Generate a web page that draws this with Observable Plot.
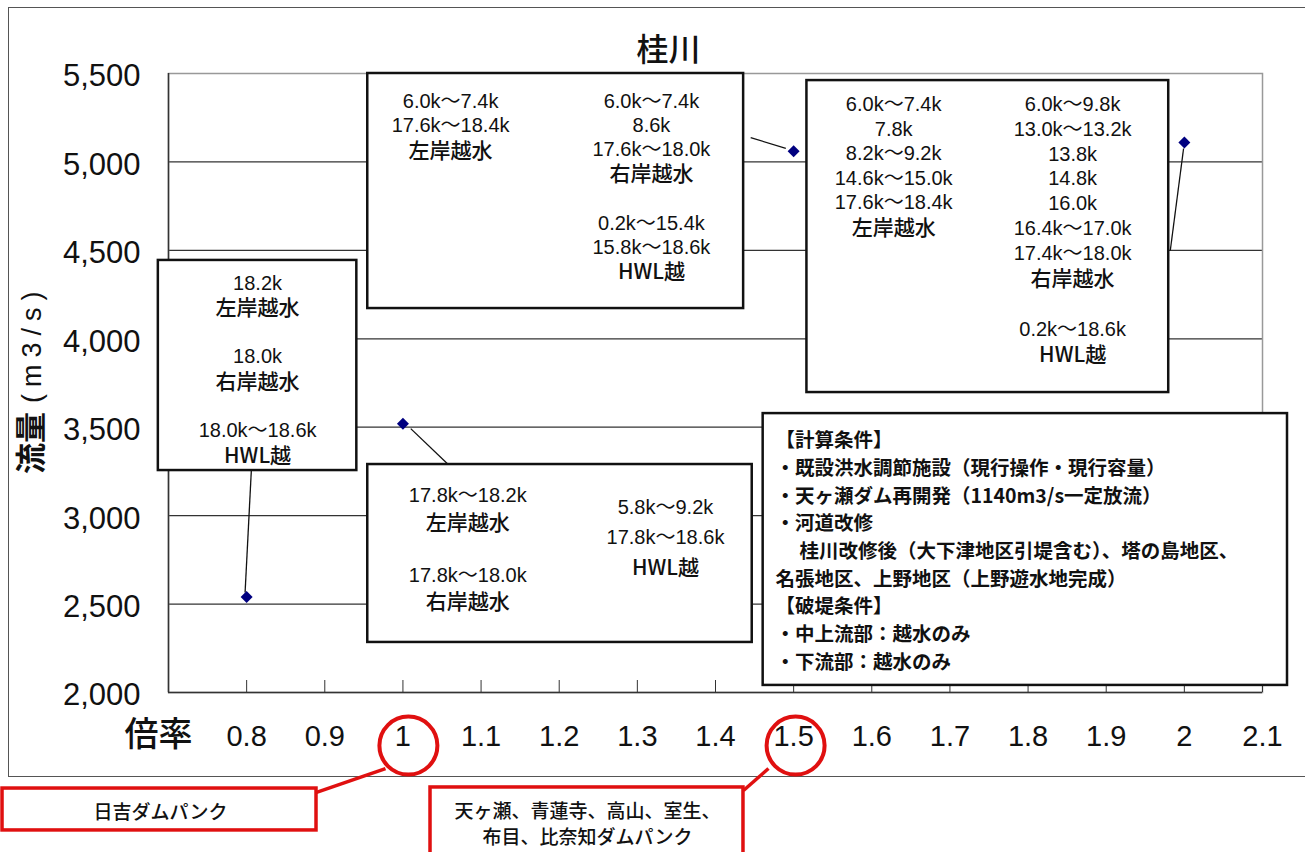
<!DOCTYPE html>
<html>
<head>
<meta charset="utf-8">
<script src="https://cdn.jsdelivr.net/npm/d3@7"></script>
<script src="https://cdn.jsdelivr.net/npm/@observablehq/plot@0.6"></script>
<style>
  body { margin: 0; background: #fff; }
  #wrap { position: relative; width: 1305px; height: 852px; overflow: hidden; }
  #outer { position: absolute; left: 8px; top: 7px; width: 1320px; height: 768px; border: 1.5px solid #555; }
  #chart { position: absolute; left: 0; top: 0; }
</style>
</head>
<body>
<div id="wrap"><div id="outer"></div><div id="chart"></div></div>
<script>
// ---- data ----
const title = "桂川";
const xTicks = [0.8, 0.9, 1.0, 1.1, 1.2, 1.3, 1.4, 1.5, 1.6, 1.7, 1.8, 1.9, 2.0, 2.1];
const yTicks = [2000, 2500, 3000, 3500, 4000, 4500, 5000, 5500];
const ratio = [0.8, 1.0, 1.5, 2.0];
const flow = [2540, 3520, 5060, 5110];

// annotation boxes (data coordinates)
const boxes = [
  {x1: 0.955, x2: 1.436, y1: 4171, y2: 5500},
  {x1: 1.517, x2: 1.980, y1: 3696, y2: 5460},
  {x1: 0.687, x2: 0.941, y1: 3255, y2: 4443},
  {x1: 0.955, x2: 1.447, y1: 2283, y2: 3289},
  {x1: 1.461, x2: 2.132, y1: 2040, y2: 3577}
];
const leaders = [
  {x1: 0.806, y1: 3255, x2: 0.798, y2: 2565},
  {x1: 1.010, y1: 3492, x2: 1.058, y2: 3289},
  {x1: 1.445, y1: 5138, x2: 1.490, y2: 5076},
  {x1: 1.999, y1: 5076, x2: 1.982, y2: 4499}
];
const blocks = [
  {x: 1.061, y: 5404, lh: 1.22, t: "6.0k～7.4k\n17.6k～18.4k\n左岸越水"},
  {x: 1.318, y: 5404, lh: 1.21, t: "6.0k～7.4k\n8.6k\n17.6k～18.0k\n右岸越水\n\n0.2k～15.4k\n15.8k～18.6k\nHWL越"},
  {x: 1.628, y: 5387, lh: 1.23, t: "6.0k～7.4k\n7.8k\n8.2k～9.2k\n14.6k～15.0k\n17.6k～18.4k\n左岸越水"},
  {x: 1.857, y: 5387, lh: 1.24, t: "6.0k～9.8k\n13.0k～13.2k\n13.8k\n14.8k\n16.0k\n16.4k～17.0k\n17.4k～18.0k\n右岸越水\n\n0.2k～18.6k\nHWL越"},
  {x: 0.814, y: 4375, lh: 1.21, t: "18.2k\n左岸越水\n\n18.0k\n右岸越水\n\n18.0k～18.6k\nHWL越"},
  {x: 1.083, y: 3182, lh: 1.31, t: "17.8k～18.2k\n左岸越水\n\n17.8k～18.0k\n右岸越水"},
  {x: 1.336, y: 3131, lh: 1.5, t: "5.8k～9.2k\n17.8k～18.6k\nHWL越"}
];
const conditions = "【計算条件】\n・既設洪水調節施設（現行操作・現行容量）\n・天ヶ瀬ダム再開発（1140m3/s一定放流）\n・河道改修\n\u3000 桂川改修後（大下津地区引堤含む）、塔の島地区、\n名張地区、上野地区（上野遊水地完成）\n【破堤条件】\n・中上流部：越水のみ\n・下流部：越水のみ";
const condPos = {x: 1.4768, y: 3498};
const circles = [{x: 1.007, y: 1700}, {x: 1.5025, y: 1700}];
const redLines = [
  {x1: 0.8894, y1: 1435, x2: 0.9777, y2: 1570},
  {x1: 1.4358, y1: 1446, x2: 1.4678, y2: 1570}
];
const redBoxes = [
  {x1: 0.4876, x2: 0.8894, y1: 1220, y2: 1457},
  {x1: 1.0353, x2: 1.4358, y1: 1050, y2: 1463}
];
const redTexts = [
  {x: 0.6898, y: 1333, t: "日吉ダムパンク"},
  {x: 1.2362, y: 1265, t: "天ヶ瀬、青蓮寺、高山、室生、\n布目、比奈知ダムパンク"}
];

const latin = "'Liberation Sans', Arial, 'Noto Sans CJK JP', sans-serif";
const cjk = "'Noto Sans CJK JP', sans-serif";
const pts = ratio.map((r, i) => ({r, f: flow[i]}));

const chart = Plot.plot({
  width: 1305,
  height: 852,
  marginLeft: 168,
  marginRight: 43,
  marginTop: 73,
  marginBottom: 160,
  style: {background: "transparent", overflow: "visible"},
  x: {domain: [0.7, 2.1], axis: null},
  y: {domain: [2000, 5500], axis: null},
  marks: [
    Plot.ruleY(yTicks.filter(d => d > 2000 && d < 5500), {stroke: "#333", strokeWidth: 1.3}),
    Plot.frame({stroke: "#999", strokeWidth: 1.5}),
    Plot.ruleX([0.7], {stroke: "#333", strokeWidth: 1.5}),
    Plot.ruleY([2000], {stroke: "#333", strokeWidth: 1.5}),
    Plot.axisX({ticks: xTicks, tickSize: -12, tickFormat: () => "", stroke: "#333"}),
    Plot.axisY({ticks: yTicks, tickSize: 0, tickPadding: 28, tickFormat: d3.format(","),
      fontSize: 31, fontFamily: latin, fill: "#111", dy: 3}),
    Plot.text(xTicks, {x: d => d, frameAnchor: "bottom", dy: 53, text: d => String(+d.toFixed(1)),
      fontSize: 29, fontFamily: latin, fill: "#111"}),
    Plot.text(["倍率"], {frameAnchor: "bottom-left", dx: 24, dy: 53, textAnchor: "end",
      fontSize: 34, fontFamily: cjk, fontWeight: 500, fill: "#111"}),
    Plot.text([title], {frameAnchor: "top", dx: -47, dy: -35, fontSize: 32, fontFamily: cjk, fontWeight: 500, fill: "#111"}),
    Plot.text(["流量"], {frameAnchor: "left", dx: -136, dy: 91, rotate: -90, fontSize: 31, fontFamily: cjk, fontWeight: 700, fill: "#111"}),
    Plot.text(["(m3/s)"], {frameAnchor: "left", dx: -136, dy: 20, rotate: -90, fontSize: 27, fontFamily: latin, fill: "#111", className: "ylab-unit"}),
    Plot.link(leaders, {x1: "x1", y1: "y1", x2: "x2", y2: "y2", stroke: "#111", strokeWidth: 1.3}),
    Plot.rect(boxes, {x1: "x1", x2: "x2", y1: "y1", y2: "y2", fill: "white", stroke: "#111", strokeWidth: 2.5}),
    Plot.dot(pts, {x: "r", y: "f", symbol: "diamond2", r: 5.4, fill: "#000080", stroke: "none"}),
    ...blocks.map(b => Plot.text([b], {x: "x", y: "y", text: "t", lineAnchor: "top", lineHeight: b.lh,
      fontSize: 20, fontFamily: latin, fill: "#111", className: "boxtext"})),
    Plot.text([condPos], {x: "x", y: "y", text: () => conditions, textAnchor: "start", lineAnchor: "top",
      lineHeight: 1.42, fontSize: 19.5, fontFamily: cjk, fontWeight: 600, fill: "#111"}),
    Plot.dot(circles, {x: "x", y: "y", r: 29, stroke: "#e01010", strokeWidth: 4, fill: "none"}),
    Plot.link(redLines, {x1: "x1", y1: "y1", x2: "x2", y2: "y2", stroke: "#e01010", strokeWidth: 3.5}),
    Plot.rect(redBoxes, {x1: "x1", x2: "x2", y1: "y1", y2: "y2", fill: "white", stroke: "#e01010", strokeWidth: 3.5}),
    Plot.text(redTexts, {x: "x", y: "y", text: "t", lineHeight: 1.4, fontSize: 19, fontFamily: cjk, fontWeight: 500, fill: "#111"})
  ]
});
document.getElementById("chart").appendChild(chart);
d3.select(chart).selectAll(".ylab-unit text").attr("letter-spacing", 7);
// Japanese lines inside the boxes are drawn a little larger than the kilometre lines
d3.select(chart).selectAll(".boxtext tspan")
  .filter(function() { return /[\u3040-\u30ff\u4e00-\u9fff]/.test(this.textContent); })
  .attr("font-size", 21).attr("font-weight", 500).attr("font-family", cjk);
</script>
</body>
</html>
